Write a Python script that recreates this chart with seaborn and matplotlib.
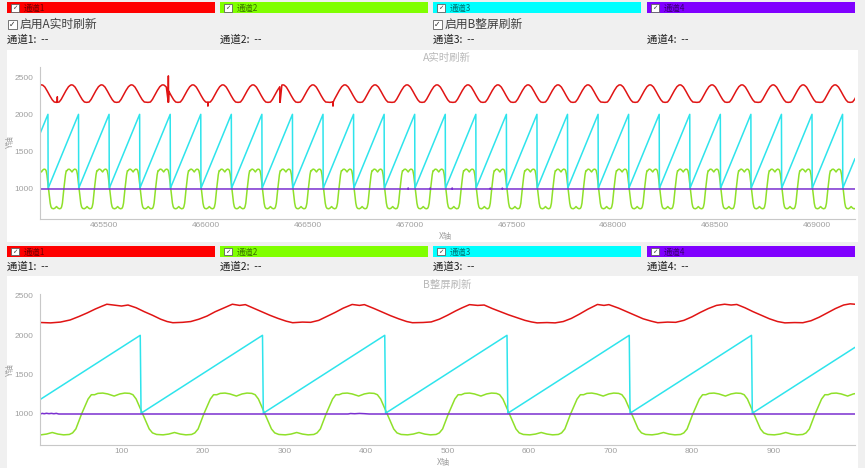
import numpy as np
import pandas as pd
import matplotlib
matplotlib.use("Agg")
import matplotlib.pyplot as plt
import seaborn as sns
from matplotlib.patches import Rectangle
from matplotlib.ticker import MultipleLocator, FixedLocator

sns.set_style("white")
plt.rcParams['font.family'] = ['Noto Sans CJK SC', 'DejaVu Sans']

W, H = 865, 468

channel_names = ['通道1', '通道2', '通道3', '通道4']
bar_colors = ['#ff0000', '#80ff00', '#00ffff', '#8000ff']
line_colors = ['#e01414', '#8fe02a', '#2ee4ec', '#7a2fd0']
bar_x = [7, 220, 433, 647]

## --- chart A (real time) ---
a_xlim = (465186, 469186)
a_ylim = (598, 2634)
a_xticks = [465500, 466000, 466500, 467000, 467500, 468000, 468500, 469000]

red_a_peaks = [465194, 465342, 465489, 465636, 465790, 465937, 466084, 466232, 466379,
               466526, 466683, 466831, 466988, 467135, 467287, 467434, 467582, 467729,
               467876, 468033, 468181, 468328, 468485, 468632, 468785, 468932, 469089, 469236]
red_cycle_dx = [-74, -62, -52, -40, -28, -16, -6, 0, 6, 16, 28, 40, 52, 62]
red_cycle_y = [2160, 2165, 2200, 2260, 2320, 2370, 2392, 2395, 2390, 2365, 2310, 2250, 2195, 2165]
red_a_spike_x = [465271, 465816, 466010, 466364, 466624]
red_a_spike_y = [2235, 2515, 2110, 2190, 2110]

teeth_a = [465225, 465375, 465525, 465675, 465825, 465975, 466125, 466275, 466425,
           466575, 466725, 466875, 467025, 467175, 467325, 467475, 467625, 467775,
           467925, 468075, 468225, 468375, 468525, 468675, 468825, 468975, 469125]
cyan_a_start, cyan_a_end = 1741, 1407

green_cycle_dx = [-56, -52, -46, -40, -32, -25, -19, -13, -9, -5, 3, 11, 15, 20, 28, 35,
                  42, 49, 56, 63, 67, 71, 78, 86, 90]
green_cycle_y = [1245, 1262, 1266, 1255, 1228, 1255, 1266, 1262, 1245, 1190, 1000, 810,
                 760, 740, 735, 745, 765, 745, 735, 740, 760, 810, 1000, 1190, 1245]

purple_a_x = [465186, 466992, 466993, 466994, 467100, 467101, 467102, 467208, 467209,
              467210, 467395, 467396, 467397, 467454, 467455, 467456, 469186]
purple_a_y = [1000, 1000, 1014, 1000, 1000, 1014, 1000, 1000, 1014, 1000, 1000, 1012,
              1000, 1000, 1012, 1000, 1000]

## --- chart B (full screen) ---
b_xlim = (0, 1000)
b_ylim = (606, 2525)
b_xticks = [100, 200, 300, 400, 500, 600, 700, 800, 900]

red_b_x = [0, 13, 25, 37, 48, 58, 68, 76, 82, 90, 100, 108, 118, 128, 138, 148, 156, 163,
           175, 185, 195, 205, 215, 225, 236, 245, 252, 262, 272, 282, 292, 302, 310,
           322, 332, 342, 352, 362, 372, 383, 392, 398, 410, 420, 430, 440, 450, 457,
           470, 480, 490, 500, 510, 518, 527, 537, 545, 555, 565, 575, 585, 595, 603, 610,
           622, 632, 642, 652, 662, 672, 684, 692, 698, 710, 720, 730, 740, 750, 758,
           770, 780, 790, 800, 810, 820, 830, 840, 848, 855, 865, 875, 885, 895, 905, 914,
           926, 936, 946, 956, 966, 976, 986, 994, 1000]
red_b_y = [2163, 2158, 2168, 2195, 2240, 2285, 2335, 2370, 2395, 2385, 2372, 2385, 2350,
           2300, 2255, 2205, 2175, 2160,
           2165, 2175, 2205, 2245, 2300, 2345, 2395, 2380, 2390, 2345, 2300, 2255, 2215,
           2180, 2160,
           2168, 2165, 2190, 2240, 2290, 2345, 2392, 2380, 2390, 2340, 2295, 2250, 2210,
           2175, 2160,
           2163, 2170, 2205, 2255, 2310, 2350, 2390, 2380, 2385, 2340, 2300, 2260, 2225,
           2190, 2170, 2158,
           2162, 2158, 2175, 2215, 2270, 2330, 2392, 2380, 2390, 2345, 2300, 2255, 2210,
           2180, 2160,
           2168, 2165, 2190, 2235, 2290, 2340, 2380, 2395, 2385, 2392, 2350, 2300, 2255,
           2210, 2175, 2158,
           2162, 2160, 2185, 2230, 2285, 2340, 2385, 2400, 2395]

teeth_b = [123, 273, 423, 573, 723, 873]
cyan_b_start, cyan_b_end = 1183, 1847
green_b_teeth = [-27, 123, 273, 423, 573, 723, 873, 1023]

purple_b_x = [0, 3, 5, 8, 11, 14, 17, 20, 23, 378, 381, 386, 392, 398, 404, 1000]
purple_b_y = [1000, 1008, 1003, 1009, 1004, 1008, 1003, 1008, 1000, 1000, 1006, 1003,
              1007, 1004, 1000, 1000]


def tile(anchors, dx, vals):
    xs, ys = [], []
    for a in anchors:
        xs += [a + d for d in dx]
        ys += vals
    return xs, ys


def saw(teeth, x0, x1, v0, v1):
    xs, ys = [x0], [v0]
    for t in teeth:
        xs += [t, t + 1]
        ys += [2000, 1010]
    xs.append(x1)
    ys.append(v1)
    return xs, ys


# red A with its spikes
rx, ry = tile(red_a_peaks, red_cycle_dx, red_cycle_y)
for sx, sy in zip(red_a_spike_x, red_a_spike_y):
    base = float(np.interp(sx, rx, ry))
    rx += [sx - 0.6, sx, sx + 0.6]
    ry += [base, sy, base]
order = np.argsort(rx, kind='stable')
red_a = pd.DataFrame({'x': np.array(rx)[order], 'y': np.array(ry)[order]})

gx, gy = tile(teeth_a, green_cycle_dx, green_cycle_y)
green_a = pd.DataFrame({'x': gx, 'y': gy})
cx, cy = saw(teeth_a, a_xlim[0], a_xlim[1], cyan_a_start, cyan_a_end)
cyan_a = pd.DataFrame({'x': cx, 'y': cy})
purple_a = pd.DataFrame({'x': purple_a_x, 'y': purple_a_y})

red_b = pd.DataFrame({'x': red_b_x, 'y': red_b_y})
gx, gy = tile(green_b_teeth, green_cycle_dx, green_cycle_y)
green_b = pd.DataFrame({'x': gx, 'y': gy})
cx, cy = saw(teeth_b, b_xlim[0], b_xlim[1], cyan_b_start, cyan_b_end)
cyan_b = pd.DataFrame({'x': cx, 'y': cy})
purple_b = pd.DataFrame({'x': purple_b_x, 'y': purple_b_y})

fig = plt.figure(figsize=(W / 100, H / 100), dpi=100)
fig.patch.set_facecolor('#f0f0f0')


def rect(x0, y0, w, h, **kw):
    r = Rectangle((x0 / W, 1 - (y0 + h) / H), w / W, h / H,
                  transform=fig.transFigure, **kw)
    fig.add_artist(r)
    return r


def txt(x, y, s, **kw):
    fig.text(x / W, 1 - y / H, s, va='center', **kw)


def checkbox(x, y, size):
    rect(x, y, size, size, facecolor='white', edgecolor='#606060', lw=0.6, zorder=3)
    txt(x + size / 2, y + size / 2 + 0.3, '✓', ha='center', fontsize=size * 0.62,
        color='#303030', zorder=4, family=['DejaVu Sans'])


def header(y_top):
    for i in range(4):
        rect(bar_x[i], y_top, 208, 11, facecolor=bar_colors[i], edgecolor='none', zorder=2)
        checkbox(bar_x[i] + 4, y_top + 2, 7.5)
        txt(bar_x[i] + 17, y_top + 6, channel_names[i], fontsize=6, color='black',
            alpha=0.55, zorder=4)


def value_row(y):
    for i in range(4):
        txt(bar_x[i], y, channel_names[i] + ':  --', fontsize=7.5, color='#202020')


# header A
header(2)
checkbox(8, 20, 9)
txt(20, 24.5, '启用A实时刷新', fontsize=8.5, color='#404040')
checkbox(433, 20, 9)
txt(445, 24.5, '启用B整屏刷新', fontsize=8.5, color='#404040')
value_row(40)
# header B
header(246)
value_row(267)

# white panels
rect(7, 50, 851, 192, facecolor='white', edgecolor='none', zorder=-5)
rect(7, 276, 851, 192, facecolor='white', edgecolor='none', zorder=-5)


def make_axes(top, bottom):
    ax = fig.add_axes([40 / W, 1 - bottom / H, 815 / W, (bottom - top) / H])
    ax.set_facecolor('white')
    return ax


def style(ax, xlim, ylim, xticks, xmin):
    ax.set_xlim(*xlim)
    ax.set_ylim(*ylim)
    ax.xaxis.set_major_locator(FixedLocator(xticks))
    ax.xaxis.set_minor_locator(MultipleLocator(xmin))
    ax.yaxis.set_major_locator(MultipleLocator(500))
    ax.yaxis.set_minor_locator(MultipleLocator(100))
    ax.ticklabel_format(useOffset=False, style='plain')
    for s in ['top', 'right']:
        ax.spines[s].set_visible(False)
    for s in ['left', 'bottom']:
        ax.spines[s].set_color('#c8c8c8')
        ax.spines[s].set_linewidth(0.8)
    ax.tick_params(which='major', length=3, width=0.6, color='#c8c8c8',
                   labelcolor='#a0a0a0', labelsize=6, pad=2)
    ax.tick_params(which='minor', length=1.5, width=0.5, color='#d0d0d0')
    ax.tick_params(axis='x', direction='in')
    ax.tick_params(axis='y', direction='out')
    for lab in ax.get_xticklabels() + ax.get_yticklabels():
        lab.set_family(['Liberation Sans'])
    ax.set_xlabel('')
    ax.set_ylabel('')
    ax.grid(False)


ax_a = make_axes(67, 219)
for df, c in zip([red_a, green_a, cyan_a, purple_a], line_colors):
    sns.lineplot(data=df, x='x', y='y', ax=ax_a, color=c, linewidth=1.1,
                 estimator=None, sort=False, legend=False)
style(ax_a, a_xlim, a_ylim, a_xticks, 100)

ax_b = make_axes(294, 445)
for df, c in zip([red_b, green_b, cyan_b, purple_b], line_colors):
    sns.lineplot(data=df, x='x', y='y', ax=ax_b, color=c, linewidth=1.1,
                 estimator=None, sort=False, legend=False)
style(ax_b, b_xlim, b_ylim, b_xticks, 20)

# titles and axis names
txt(447, 58, 'A实时刷新', ha='center', fontsize=7.5, color='#b8b8b8')
txt(447, 285, 'B整屏刷新', ha='center', fontsize=7.5, color='#b8b8b8')
txt(10, 142, 'Y轴', ha='center', rotation=90, fontsize=6, color='#a0a0a0')
txt(10, 370, 'Y轴', ha='center', rotation=90, fontsize=6, color='#a0a0a0')
txt(445, 236, 'X轴', ha='center', fontsize=6, color='#a0a0a0')
txt(443, 463, 'X轴', ha='center', fontsize=6, color='#a0a0a0')

fig.savefig('out.png', dpi=100, facecolor=fig.get_facecolor())
